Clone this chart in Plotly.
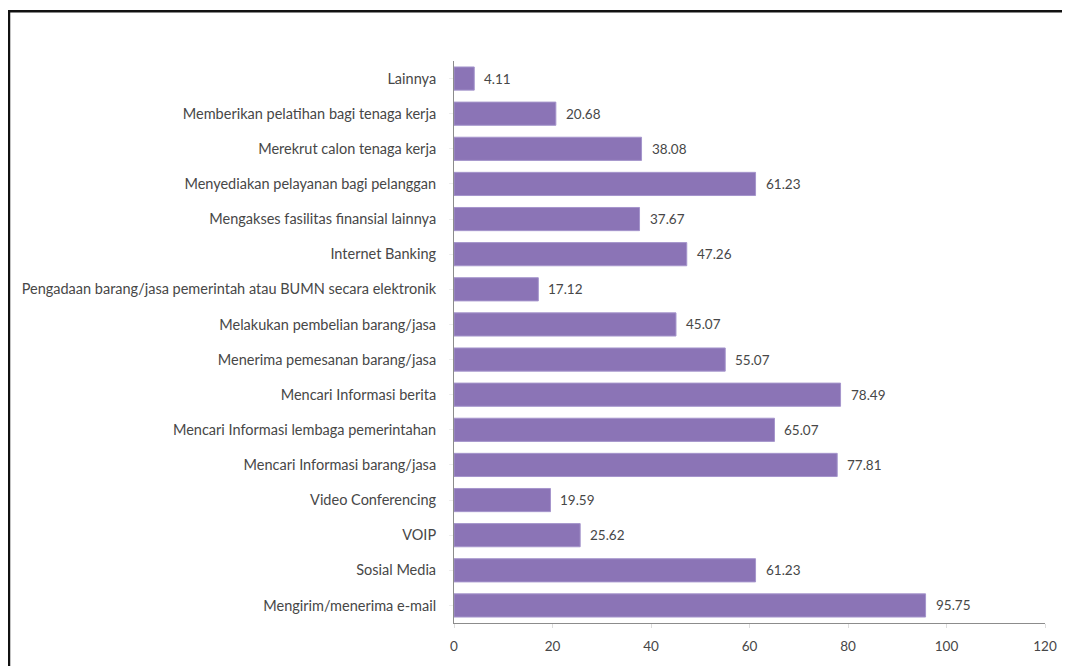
import plotly.graph_objects as go

categories = [
    "Mengirim/menerima e-mail",
    "Sosial Media",
    "VOIP",
    "Video Conferencing",
    "Mencari Informasi barang/jasa",
    "Mencari Informasi lembaga pemerintahan",
    "Mencari Informasi berita",
    "Menerima pemesanan barang/jasa",
    "Melakukan pembelian barang/jasa",
    "Pengadaan barang/jasa pemerintah atau BUMN secara elektronik",
    "Internet Banking",
    "Mengakses fasilitas finansial lainnya",
    "Menyediakan pelayanan bagi pelanggan",
    "Merekrut calon tenaga kerja",
    "Memberikan pelatihan bagi tenaga kerja",
    "Lainnya",
]
values = [95.75, 61.23, 25.62, 19.59, 77.81, 65.07, 78.49, 55.07, 45.07,
          17.12, 47.26, 37.67, 61.23, 38.08, 20.68, 4.11]
x_ticks = [0, 20, 40, 60, 80, 100, 120]

OFF = 8  # page body margin
W, H = 1070 - OFF, 666 - OFF
L, R, T, B = 454 - OFF, 25, 61 - OFF, 37 - OFF
pw, ph = W - L - R, H - T - B

FONT = "Lato"
TXT = "#474747"
FS = 13.5
FSY = 14.5

fig = go.Figure(go.Bar(
    x=values, y=categories, orientation="h",
    marker=dict(color="#8B74B6", line=dict(color="#a595cc", width=1)),
    width=0.66,
))

for c, v in zip(categories, values):
    fig.add_annotation(x=v, y=c, text=f"{v:.2f}", showarrow=False,
                       xanchor="left", xshift=8,
                       font=dict(family=FONT, size=FS, color=TXT))

def px_to_paper_x(px):
    return (px - OFF - L) / pw

def px_to_paper_y(py):
    return (H + OFF - B - py) / ph

fx0 = px_to_paper_x(9)
fy_top = px_to_paper_y(10)
fy_bot = px_to_paper_y(700)
fx_right = px_to_paper_x(1100)
fig.add_shape(type="path", xref="paper", yref="paper",
              path=f"M {fx0} {fy_bot} L {fx0} {fy_top} L {fx_right} {fy_top}",
              line=dict(color="#111111", width=2.5))

fig.update_layout(
    width=W, height=H,
    margin=dict(l=L, r=R, t=T, b=B),
    paper_bgcolor="white", plot_bgcolor="white",
    showlegend=False,
    font=dict(family=FONT, size=FS, color=TXT),
    xaxis=dict(range=[0, 120], tickvals=x_ticks, showgrid=False, zeroline=False,
               showline=True, linecolor="#8c8c8c", linewidth=1,
               ticks="outside", ticklen=4, tickcolor="#dddddd",
               ticklabelstandoff=7, tickfont=dict(size=FS, color=TXT)),
    yaxis=dict(categoryorder="array", categoryarray=categories,
               showgrid=False, zeroline=False,
               showline=True, linecolor="#8c8c8c", linewidth=1,
               ticks="outside", ticklen=4, tickcolor="#eeeeee",
               ticklabelstandoff=10, tickfont=dict(size=FSY, color=TXT)),
)

fig.write_html("out.html")
